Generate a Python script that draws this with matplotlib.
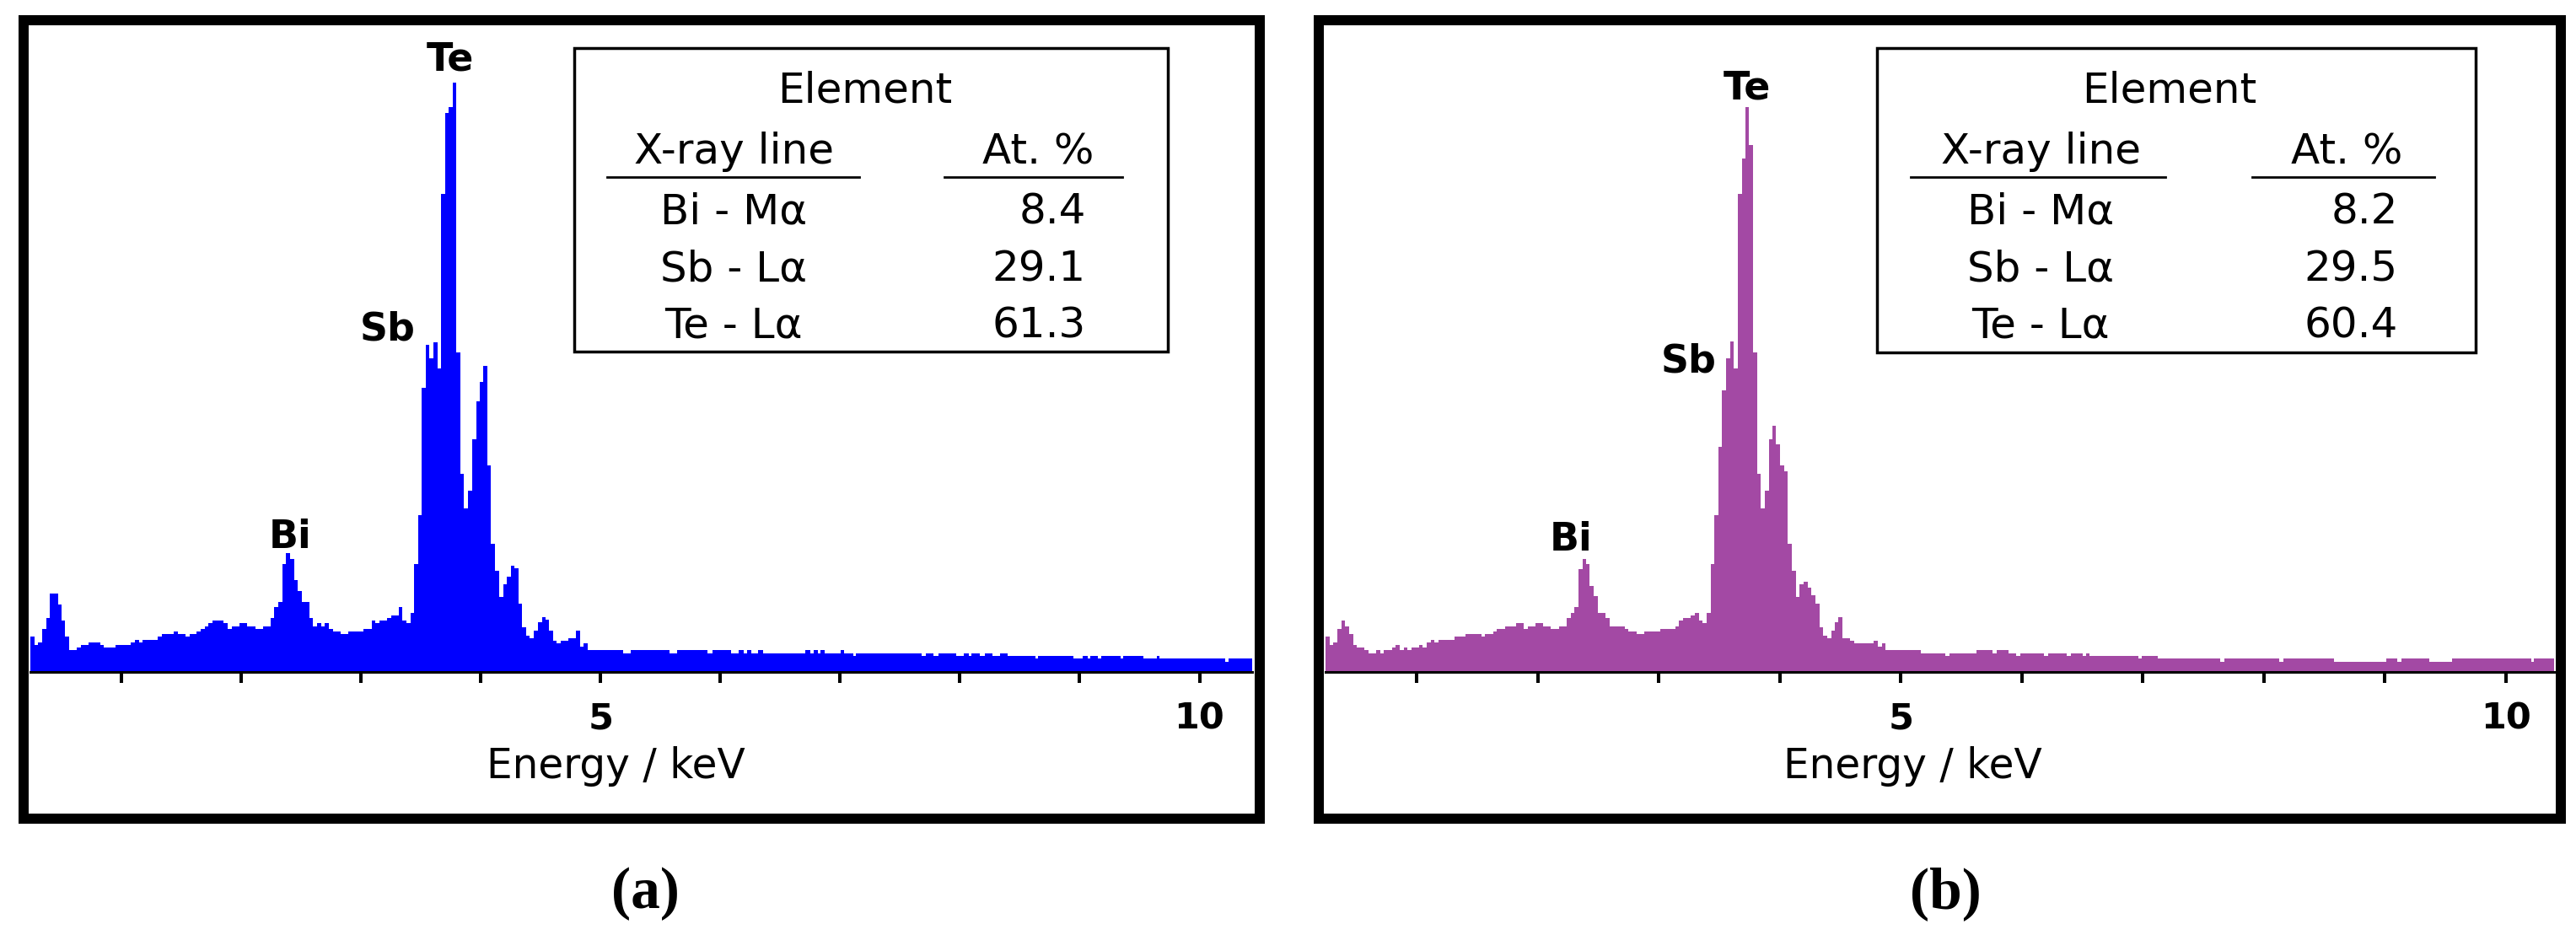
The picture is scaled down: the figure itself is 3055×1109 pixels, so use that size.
import matplotlib
matplotlib.use("Agg")
import matplotlib.pyplot as plt
from matplotlib.patches import Rectangle
from matplotlib.lines import Line2D

plt.rcParams["font.family"] = ["DejaVu Sans"]

W, H = 3055, 1109

# EDS spectrum (a): channel edges (keV) and counts (a.u.)
edges_a = [0.239, 0.272, 0.305, 0.338, 0.371, 0.403, 0.469, 0.497, 0.530, 0.563,
           0.629, 0.662, 0.727, 0.821, 0.854, 0.952, 1.079, 1.112, 1.145, 1.178,
           1.304, 1.337, 1.436, 1.468, 1.534, 1.567, 1.628, 1.661, 1.694, 1.726,
           1.759, 1.853, 1.886, 1.919, 1.985, 2.050, 2.116, 2.182, 2.243, 2.275,
           2.308, 2.341, 2.374, 2.407, 2.440, 2.472, 2.505, 2.566, 2.599, 2.632,
           2.665, 2.698, 2.730, 2.763, 2.829, 2.895, 3.021, 3.087, 3.120, 3.153,
           3.218, 3.251, 3.312, 3.345, 3.378, 3.411, 3.444, 3.476, 3.509,
           3.542, 3.570, 3.603, 3.636, 3.669, 3.702, 3.734, 3.763, 3.795, 3.828,
           3.861, 3.894, 3.927, 3.960, 3.992, 4.021, 4.053, 4.086, 4.119, 4.152,
           4.185, 4.218, 4.251, 4.279, 4.312, 4.344, 4.377, 4.410, 4.443, 4.476,
           4.509, 4.537, 4.570, 4.602, 4.635, 4.668, 4.734, 4.795, 4.828, 4.860,
           4.893,
           5.189, 5.253, 5.577, 5.641, 5.895, 5.934, 6.092, 6.156, 6.196, 6.220,
           6.259, 6.314, 6.354, 6.711, 6.750, 6.782, 6.814, 6.837, 6.869, 7.004,
           7.036, 7.107, 7.131, 7.678, 7.717, 7.780, 7.820, 7.970, 8.034, 8.074,
           8.098, 8.169, 8.208, 8.272, 8.335, 8.399, 8.628, 8.652, 8.946, 9.025,
           9.064, 9.088, 9.151, 9.183, 9.342, 9.365, 9.532, 9.643, 9.666, 10.213,
           10.245, 10.44]
counts_a = [42, 32, 35, 51, 64, 93, 80, 61, 42, 26,
            29, 32, 35, 32, 29, 32, 35, 38, 35, 38,
            42, 45, 48, 45, 42, 45, 48, 51, 54, 58,
            61, 58, 51, 54, 58, 54, 51, 54, 64, 77,
            83, 128, 141, 134, 109, 96, 83, 64, 54, 58,
            54, 58, 51, 48, 45, 48, 51, 61, 58, 61,
            64, 67, 77, 61, 58, 70, 128, 186,
            337, 388, 372, 391, 360, 567, 663, 670, 699, 379,
            235, 194, 215, 276, 321, 344, 363, 245, 152, 120,
            89, 104, 113, 126, 123, 81, 53, 43, 40, 49,
            59, 65, 62, 49, 37, 34, 37, 40, 49, 30,
            34,
            26, 22, 26, 22, 26, 22, 26, 22, 26, 22,
            26, 22, 26, 22, 26, 22, 26, 22, 26, 22,
            26, 22, 19, 22, 19, 22, 19, 22, 19, 22,
            19, 22, 19, 22, 19, 22, 19, 16, 19, 16,
            19, 16, 19, 16, 19, 16, 19, 16, 19, 16,
            12, 16]

# EDS spectrum (b)
edges_b = [0.245, 0.277, 0.310, 0.342, 0.375, 0.408, 0.440, 0.473, 0.505, 0.565,
           0.603, 0.663, 0.696, 0.728, 0.793, 0.826, 0.858, 0.891, 0.923, 0.956,
           1.016, 1.049, 1.081, 1.114, 1.146, 1.179, 1.309, 1.402, 1.532, 1.564,
           1.630, 1.662, 1.727, 1.820, 1.885, 1.918, 1.983, 2.043, 2.108, 2.173,
           2.238, 2.271, 2.303, 2.336, 2.368, 2.396, 2.429, 2.461, 2.494, 2.559,
           2.591, 2.717, 2.749, 2.814, 2.879, 3.009, 3.135, 3.168, 3.200, 3.265,
           3.298, 3.330, 3.363, 3.395, 3.428, 3.460, 3.493,
           3.523, 3.555, 3.588, 3.620, 3.653, 3.686, 3.718, 3.746, 3.778, 3.811,
           3.844, 3.876, 3.909, 3.941, 3.969, 4.002, 4.034, 4.067, 4.099, 4.132,
           4.164, 4.197, 4.229, 4.262, 4.294, 4.327, 4.359, 4.392, 4.424, 4.457,
           4.485, 4.517, 4.582, 4.615, 4.777, 4.810, 4.843, 4.870,
           5.167, 5.371, 5.403, 5.624, 5.758, 5.790, 5.891, 5.955, 5.986, 6.183,
           6.215, 6.372, 6.404, 6.506, 6.530, 6.561, 6.963, 6.995, 7.121, 7.641,
           7.673, 8.129, 8.161, 8.579, 9.012, 9.106, 9.138, 9.367, 9.556, 10.210,
           10.234, 10.40]
counts_b = [42, 32, 35, 51, 61, 54, 45, 32, 29, 26,
            22, 26, 22, 26, 29, 32, 26, 29, 26, 29,
            32, 29, 35, 38, 35, 38, 42, 45, 42, 45,
            48, 51, 54, 58, 51, 54, 58, 54, 51, 54,
            64, 70, 77, 122, 134, 128, 102, 90, 70, 64,
            54, 51, 48, 45, 48, 51, 54, 61, 64, 67,
            70, 61, 58, 70, 128, 186,
            267, 334, 372, 392, 360, 567, 609, 670, 625, 379,
            235, 194, 215, 276, 292, 270, 245, 238, 152, 120,
            89, 104, 107, 100, 91, 81, 53, 43, 40, 49,
            59, 65, 40, 37, 34, 37, 30, 34,
            26, 22, 19, 22, 26, 22, 26, 22, 19, 22,
            19, 22, 19, 22, 19, 22, 19, 16, 19, 16,
            12, 16, 12, 16, 12, 16, 12, 16, 12, 16,
            12, 16]

peak_names = ["Te", "Sb", "Bi"]
xray_lines = ["Bi - Mα", "Sb - Lα", "Te - Lα"]
at_pct_a = ["8.4", "29.1", "61.3"]
at_pct_b = ["8.2", "29.5", "60.4"]
tick_vals = [1, 2, 3, 4, 5, 6, 7, 8, 9, 10]
tick_labels = ["", "", "", "", "5", "", "", "", "", "10"]


def fx(x):
    return x / W


def fy(y):
    return 1 - y / H


panels = [
    dict(edges=edges_a, counts=counts_a, pct=at_pct_a, color="#0000ff",
         frame=(22, 18, 1500, 977), axbox=(36, 28, 1485, 797),
         box=(681, 57, 1385, 417), col1=870, head2=1231, col2r=1288,
         ul1=(720, 1019), ul2=(1120, 1331), elem=1026, xlab=730, tagx=765,
         peaks=[(3.744, 713), (3.220, 394), (2.407, 147)], tag="(a)"),
    dict(edges=edges_b, counts=counts_b, pct=at_pct_b, color="#a349a4",
         frame=(1558, 18, 3043, 977), axbox=(1572, 28, 3029, 797),
         box=(2226, 57, 2936, 418), col1=2420, head2=2783, col2r=2844,
         ul1=(2266, 2568), ul2=(2671, 2887), elem=2573, xlab=2268, tagx=2307,
         peaks=[(3.729, 679), (3.245, 356), (2.271, 144)], tag="(b)"),
]

fig = plt.figure(figsize=(W / 100, H / 100), dpi=100)

for p in panels:
    x0, y0, x1, y1 = p["axbox"]
    ax = fig.add_axes([fx(x0), fy(y1), fx(x1) - fx(x0), fy(y0) - fy(y1)])
    ax.patch.set_alpha(0)
    ax.stairs(p["counts"], p["edges"], fill=True, color=p["color"], linewidth=0)
    ax.set_xlim(p["edges"][0], p["edges"][-1])
    ax.set_ylim(0, 769)
    for s in ["left", "right", "top"]:
        ax.spines[s].set_visible(False)
    ax.spines["bottom"].set_linewidth(2.2)
    ax.set_yticks([])
    ax.set_xticks(tick_vals)
    ax.set_xticklabels(tick_labels)
    ax.tick_params(axis="x", direction="out", length=9.5, width=2.9, pad=15.5,
                   labelsize=31)
    for lab in ax.get_xticklabels():
        lab.set_fontweight("bold")

    for name, (e, c) in zip(peak_names, p["peaks"]):
        ax.text(e, c, name, ha="center", va="baseline", fontsize=33,
                fontweight="bold")

    # outer frame
    fr = p["frame"]
    lw = 12
    fig.add_artist(Rectangle((fx(fr[0] + lw / 2), fy(fr[3] - lw / 2)),
                             fx(fr[2] - fr[0] - lw), (fr[3] - fr[1] - lw) / H,
                             transform=fig.transFigure, fill=False,
                             ec="black", lw=lw * 0.72))

    # table box
    b = p["box"]
    fig.add_artist(Rectangle((fx(b[0]), fy(b[3])), fx(b[2] - b[0]), (b[3] - b[1]) / H,
                             transform=fig.transFigure, fill=False,
                             ec="black", lw=2.5))
    fs = 36
    fig.text(fx(p["elem"]), fy(121), "Element", ha="center", va="baseline", fontsize=fs)
    fig.text(fx(p["col1"]), fy(194.5), "X-ray line", ha="center", va="baseline", fontsize=fs)
    fig.text(fx(p["head2"]), fy(194.5), "At. %", ha="center", va="baseline", fontsize=fs)
    for u in (p["ul1"], p["ul2"]):
        fig.add_artist(Line2D([fx(u[0]), fx(u[1])], [fy(209.5), fy(209.5)],
                              transform=fig.transFigure, color="black", lw=2))
    for yb, line, val in zip([265.8, 333, 400.6], xray_lines, p["pct"]):
        fig.text(fx(p["col1"]), fy(yb), line, ha="center", va="baseline", fontsize=fs)
        fig.text(fx(p["col2r"]), fy(yb), val, ha="right", va="baseline", fontsize=fs)

    fig.text(fx(p["xlab"]), fy(923), "Energy / keV", ha="center", va="baseline",
             fontsize=35)
    fig.text(fx(p["tagx"]), fy(1077), p["tag"], ha="center", va="baseline",
             fontsize=50, fontweight="bold", family=["Liberation Serif"])

fig.savefig("out.png", dpi=100)
plt.close(fig)
